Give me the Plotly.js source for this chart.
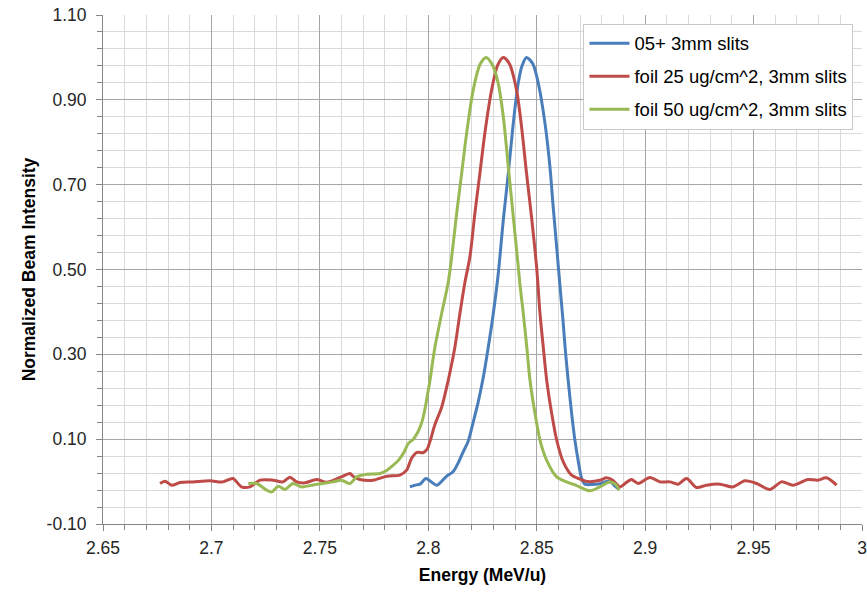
<!DOCTYPE html>
<html>
<head>
<meta charset="utf-8">
<script src="https://cdn.plot.ly/plotly-3.0.1.min.js"></script>
<style>html,body{margin:0;padding:0;background:#fff;}#chart{width:867px;height:594px;}</style>
</head>
<body>
<div id="chart"></div>
<script>
// Series 1: 05+ 3mm slits
const blueName = "05+ 3mm slits";
const blueX = [2.7915,2.7938,2.7962,2.7989,2.8012,2.8040,2.8085,2.8114,2.8137,2.8160,2.8184,2.8206,2.8229,2.8253,2.8276,2.8300,2.8322,2.8346,2.8369,2.8392,2.8415,2.8432,2.8453,2.8482,2.8509,2.8538,2.8561,2.8576,2.8592,2.8607,2.8621,2.8632,2.8645,2.8661,2.8676,2.8691,2.8707,2.8722,2.8754,2.8791,2.8824,2.8842,2.8861,2.8879];
const blueY = [-0.0125,-0.0085,-0.006,0.007,0.0,-0.0085,0.013,0.023,0.043,0.069,0.095,0.138,0.185,0.244,0.315,0.397,0.487,0.617,0.727,0.845,0.940,0.980,1.0,0.985,0.935,0.845,0.742,0.647,0.553,0.463,0.381,0.31,0.239,0.161,0.098,0.05,0.008,-0.006,-0.007,-0.005,0.0,-0.001,-0.011,-0.018];

// Series 2: foil 25 ug/cm^2, 3mm slits
const redName = "foil 25 ug/cm^2, 3mm slits";
const redX = [2.6763,2.6786,2.6817,2.6855,2.6915,2.6993,2.7053,2.7099,2.7139,2.7178,2.7224,2.7284,2.7330,2.7362,2.7393,2.7431,2.7485,2.7531,2.7593,2.7639,2.7653,2.7685,2.7745,2.7808,2.7869,2.7900,2.7923,2.7948,2.7975,2.7994,2.8008,2.8031,2.8062,2.8092,2.8123,2.8146,2.8169,2.8192,2.8215,2.8238,2.8261,2.8292,2.8320,2.8346,2.8374,2.8407,2.8430,2.8453,2.8476,2.8500,2.8515,2.8530,2.8546,2.8569,2.8592,2.8622,2.8661,2.8699,2.8736,2.8791,2.8822,2.8851,2.8884,2.8907,2.8937,2.8968,2.9022,2.9068,2.9114,2.9152,2.9191,2.9237,2.9283,2.9345,2.9405,2.9460,2.9514,2.9575,2.9629,2.9681,2.9713,2.9750,2.9796,2.9836,2.9883];
const redY = [-0.0045,0.0009,-0.0085,-0.0021,-0.0007,0.0017,-0.0007,0.0073,-0.0125,-0.0125,0.0033,0.0033,-0.0007,0.0104,-0.0007,-0.003,0.005,-0.0014,0.0097,0.0191,0.0127,0.005,0.0033,0.0127,0.0151,0.0269,0.055,0.069,0.068,0.076,0.095,0.135,0.176,0.239,0.318,0.397,0.470,0.530,0.633,0.727,0.822,0.923,0.982,1.0,0.985,0.923,0.837,0.727,0.624,0.503,0.397,0.318,0.239,0.161,0.098,0.047,0.015,0.006,0.0,0.003,0.009,0.003,-0.0125,-0.0045,0.005,-0.0045,0.0097,-0.0007,-0.0007,-0.0061,0.0073,-0.0139,-0.0085,-0.0061,-0.0125,0.0017,-0.0045,-0.0186,-0.0007,-0.0085,-0.003,0.005,0.0033,0.0088,-0.0085];

// Series 3: foil 50 ug/cm^2, 3mm slits
const greenName = "foil 50 ug/cm^2, 3mm slits";
const greenX = [2.7170,2.7209,2.7255,2.7278,2.7308,2.7339,2.7376,2.7416,2.7462,2.7514,2.7560,2.7600,2.7639,2.7670,2.7716,2.7777,2.7808,2.7832,2.7862,2.7888,2.7908,2.7931,2.7952,2.7969,2.7982,2.7996,2.8008,2.8019,2.8031,2.8062,2.8092,2.8108,2.8131,2.8154,2.8177,2.8207,2.8240,2.8267,2.8296,2.8322,2.8346,2.8369,2.8392,2.8415,2.8423,2.8438,2.8454,2.8469,2.8492,2.8515,2.8546,2.8592,2.8638,2.8684,2.8745,2.8791,2.8837,2.8868,2.8879];
const greenY = [-0.0045,-0.0045,-0.0203,-0.0243,-0.0109,-0.0186,-0.0045,-0.0125,-0.0085,-0.0045,-0.0007,0.0033,-0.0045,0.0111,0.0175,0.0191,0.026,0.036,0.050,0.069,0.090,0.100,0.117,0.138,0.164,0.204,0.239,0.279,0.318,0.397,0.470,0.530,0.633,0.727,0.822,0.923,0.985,1.0,0.982,0.940,0.860,0.742,0.624,0.506,0.463,0.397,0.318,0.239,0.161,0.098,0.050,0.011,-0.0007,-0.0095,-0.0219,-0.0125,-0.0007,-0.0085,-0.0203];

// Axis ticks
const xTickVals = [2.65,2.7,2.75,2.8,2.85,2.9,2.95,3.0];
const xTickText = ["2.65","2.7","2.75","2.8","2.85","2.9","2.95","3"];
const yTickVals = [-0.10,0.10,0.30,0.50,0.70,0.90,1.10];
const yTickText = ["-0.10","0.10","0.30","0.50","0.70","0.90","1.10"];

const FONT = "Liberation Sans, Arial, sans-serif";
function mk(x, y, name, color, grp) {
  return {x: x, y: y, name: name, type: 'scatter', mode: 'lines', legendgroup: grp,
          line: {color: color, width: 3, shape: 'spline', smoothing: 0.8}};
}
const data = [
  mk(blueX, blueY, blueName, '#4a7ebb', 'a'),
  mk(redX, redY, redName, '#be4b48', 'b'),
  mk(greenX, greenY, greenName, '#98b954', 'c')
];
const layout = {
  width: 867, height: 594,
  margin: {l: 103, r: 5, t: 15, b: 70},
  paper_bgcolor: '#fff', plot_bgcolor: '#fff',
  font: {family: FONT, size: 17, color: '#262626'},
  showlegend: true,
  legend: {x: 0.633, y: 0.983, xanchor: 'left', yanchor: 'top',
           bgcolor: '#fff', bordercolor: '#c8c8c8', borderwidth: 1,
           font: {family: FONT, size: 18.5, color: '#000'},
           tracegroupgap: 6, itemwidth: 40, traceorder: 'grouped'},
  xaxis: {range: [2.65, 3.0], tickvals: xTickVals, ticktext: xTickText,
          showgrid: true, gridcolor: '#a6a6a6', gridwidth: 1,
          ticks: 'outside', ticklen: 6, tickcolor: '#868686',
          showline: true, linecolor: '#868686', linewidth: 1, zeroline: false,
          ticklabelstandoff: 2,
          minor: {dtick: 0.01, showgrid: true, gridcolor: '#d9d9d9', gridwidth: 1, ticks: 'outside', ticklen: 5, tickcolor: '#868686'},
          tickfont: {family: FONT, size: 17.5, color: '#262626'},
          title: {text: 'Energy (MeV/u)', font: {family: FONT, size: 17.5, color: '#000', weight: 'bold'}, standoff: 11}},
  yaxis: {range: [-0.10, 1.10], tickvals: yTickVals, ticktext: yTickText,
          showgrid: true, gridcolor: '#a6a6a6', gridwidth: 1,
          ticks: 'outside', ticklen: 6, tickcolor: '#868686',
          showline: true, linecolor: '#868686', linewidth: 1, zeroline: false,
          ticklabelstandoff: 6,
          minor: {dtick: 0.04, tick0: -0.10, showgrid: true, gridcolor: '#d9d9d9', gridwidth: 1, ticks: 'outside', ticklen: 5, tickcolor: '#868686'},
          tickfont: {family: FONT, size: 17.5, color: '#262626'},
          title: {text: 'Normalized Beam Intensity', font: {family: FONT, size: 17.5, color: '#000', weight: 'bold'}, standoff: 6}}
};
Plotly.newPlot('chart', data, layout, {displayModeBar: false, staticPlot: true});
</script>
</body>
</html>
